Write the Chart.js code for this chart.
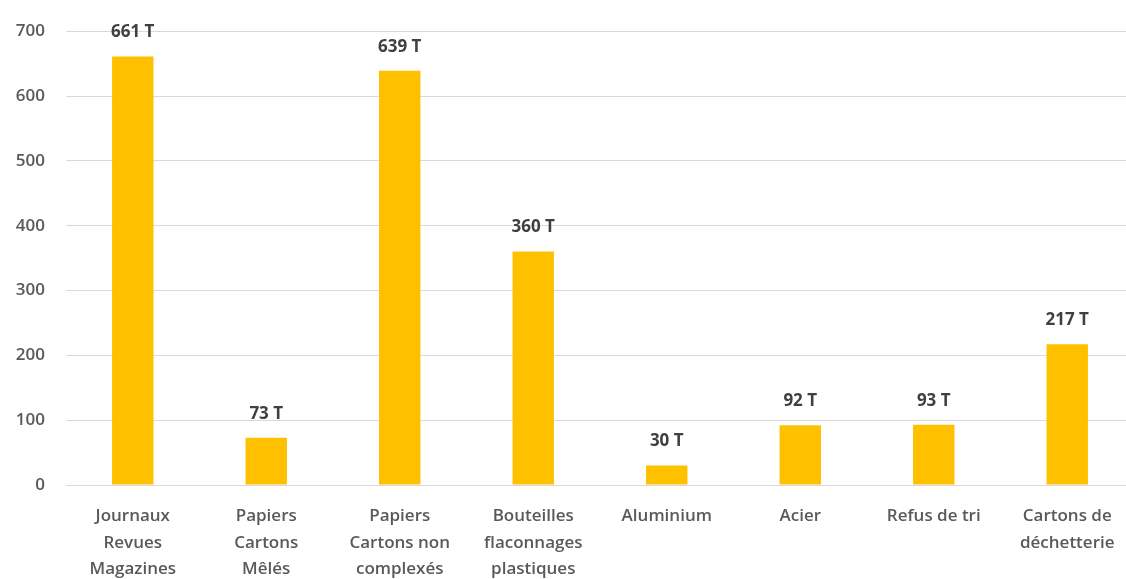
<!DOCTYPE html>
<html>
<head>
<meta charset="utf-8">
<script src="https://cdn.jsdelivr.net/npm/chart.js@4"></script>
<style>
    html, body { margin: 0; padding: 0; background: #fff; overflow: hidden; }
    #wrap { width: 1134px; height: 579px; position: relative; }
</style>
</head>
<body>
<div id="wrap"><canvas id="tonnageChart"></canvas></div>
<script>
// Data
var categories = [
    ['Journaux', 'Revues', 'Magazines'],
    ['Papiers', 'Cartons', 'Mêlés'],
    ['Papiers', 'Cartons non', 'complexés'],
    ['Bouteilles', 'flaconnages', 'plastiques'],
    'Aluminium',
    'Acier',
    'Refus de tri',
    ['Cartons de', 'déchetterie']
];
var tonnes = [661, 73, 639, 360, 30, 92, 93, 217];
var yTicks = [0, 100, 200, 300, 400, 500, 600, 700];

// Value labels above bars ("661 T")
var barLabels = {
    id: 'barLabels',
    afterDatasetsDraw: function (chart) {
        var ctx = chart.ctx;
        var meta = chart.getDatasetMeta(0);
        ctx.save();
        ctx.font = 'bold 17px "Open Sans", sans-serif';
        ctx.fillStyle = '#404040';
        ctx.textAlign = 'center';
        ctx.textBaseline = 'middle';
        meta.data.forEach(function (bar, i) {
            ctx.fillText(tonnes[i] + ' T', bar.x, bar.y - 24);
        });
        ctx.restore();
    }
};

var ctx = document.getElementById('tonnageChart').getContext('2d');
var tonnageChart = new Chart(ctx, {
    type: 'bar',
    data: {
        labels: categories,
        datasets: [{
            data: tonnes,
            backgroundColor: '#FFC000',
            barPercentage: 0.31,
            categoryPercentage: 1.0
        }]
    },
    options: {
        responsive: true,
        maintainAspectRatio: false,
        animation: false,
        layout: { padding: { top: 27, left: 0, right: 0, bottom: 0 } },
        plugins: {
            legend: { display: false },
            tooltip: { enabled: false }
        },
        scales: {
            x: {
                grid: { display: false },
                border: { display: false },
                ticks: {
                    color: '#595959',
                    font: { family: '"Open Sans", sans-serif', size: 17, weight: 600, lineHeight: 1.56 },
                    maxRotation: 0,
                    autoSkip: false,
                    padding: 10
                },
                afterFit: function (scale) { scale.height = 94; }
            },
            y: {
                min: 0,
                max: 700,
                afterBuildTicks: function (scale) {
                    scale.ticks = yTicks.map(function (v) { return { value: v }; });
                },
                grid: { color: '#d9d9d9', lineWidth: 1, drawTicks: false },
                border: { display: false },
                ticks: {
                    color: '#595959',
                    font: { family: '"Open Sans", sans-serif', size: 17, weight: 600 },
                    padding: 21
                },
                afterFit: function (scale) { scale.width = 66; }
            }
        }
    },
    plugins: [barLabels]
});
</script>
</body>
</html>
